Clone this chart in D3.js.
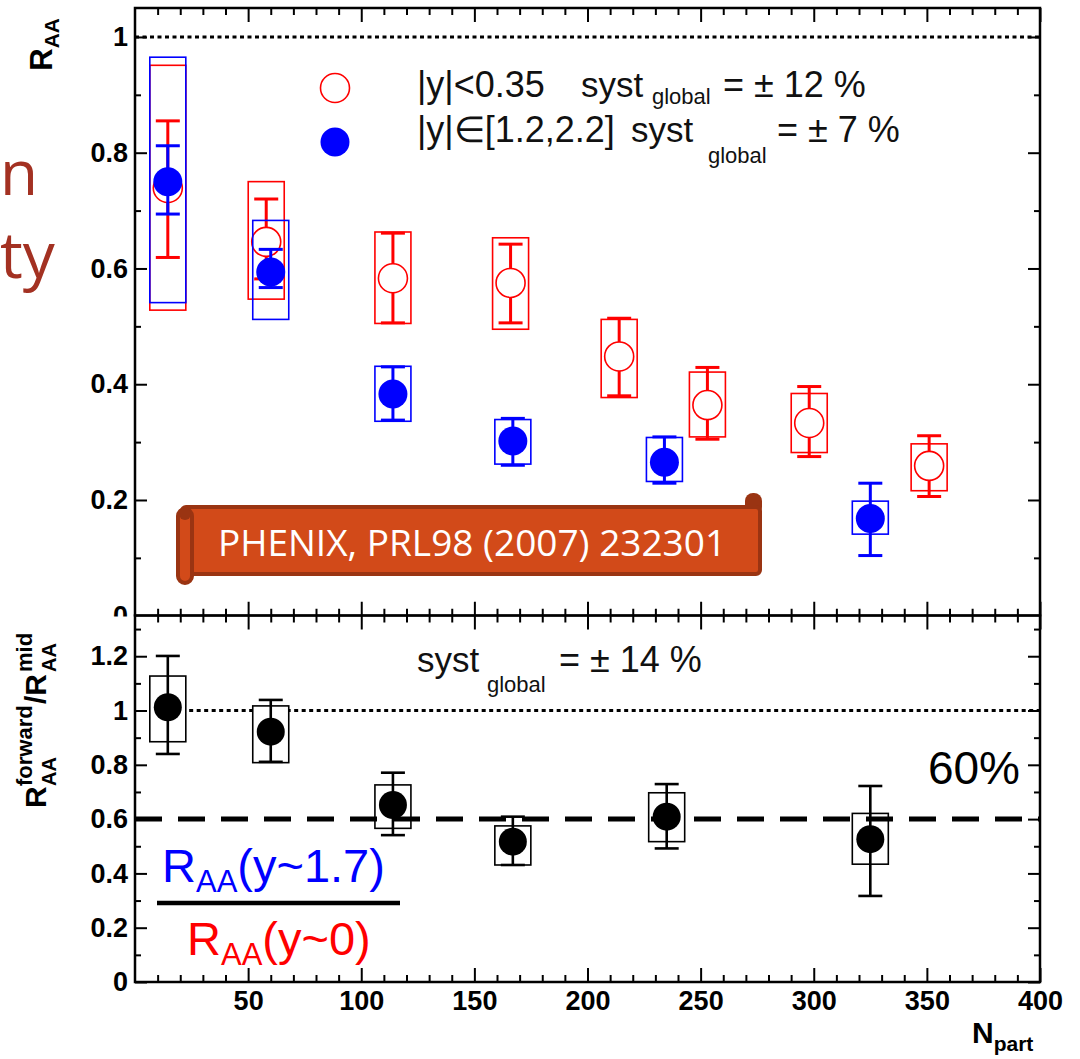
<!DOCTYPE html>
<html>
<head>
<meta charset="utf-8">
<script src="https://cdn.jsdelivr.net/npm/d3@7"></script>
<style>
  body { margin: 0; background: #fff; }
  svg { display: block; }
</style>
</head>
<body>
<svg id="chart" width="1080" height="1059"></svg>
<script>
// ---- Data: J/psi R_AA vs N_part (PHENIX Au+Au) ----
// Mid rapidity |y|<0.35
const nPartMid   = [14.5, 58, 114, 166, 214, 253, 298, 351];
const raaMid     = [0.739, 0.646, 0.583, 0.575, 0.448, 0.364, 0.333, 0.259];
const statMidHi  = [0.855, 0.720, 0.661, 0.642, 0.514, 0.429, 0.396, 0.311];
const statMidLo  = [0.619, 0.582, 0.506, 0.506, 0.380, 0.305, 0.275, 0.206];
const systMidHi  = [0.951, 0.750, 0.663, 0.653, 0.512, 0.421, 0.384, 0.297];
const systMidLo  = [0.528, 0.547, 0.505, 0.495, 0.377, 0.309, 0.282, 0.216];

// Forward rapidity |y| in [1.2, 2.2]
const nPartFwd   = [14.5, 60, 114, 167, 234, 325];
const raaFwd     = [0.750, 0.594, 0.383, 0.302, 0.265, 0.168];
const statFwdHi  = [0.812, 0.633, 0.430, 0.341, 0.309, 0.229];
const statFwdLo  = [0.694, 0.567, 0.338, 0.260, 0.229, 0.104];
const systFwdHi  = [0.965, 0.683, 0.431, 0.339, 0.308, 0.198];
const systFwdLo  = [0.541, 0.512, 0.336, 0.262, 0.232, 0.141];

// Ratio forward / mid
const nPartRatio   = [14.5, 60, 114, 167, 235, 325];
const ratio        = [1.012, 0.922, 0.652, 0.517, 0.609, 0.526];
const ratioStatHi  = [1.201, 1.039, 0.771, 0.609, 0.729, 0.722];
const ratioStatLo  = [0.840, 0.811, 0.541, 0.431, 0.492, 0.317];
const ratioSystHi  = [1.127, 1.017, 0.726, 0.575, 0.697, 0.621];
const ratioSystLo  = [0.885, 0.808, 0.566, 0.431, 0.517, 0.434];

// Axis ticks
const xMajorTicks   = [50, 100, 150, 200, 250, 300, 350, 400];
const topMajorTicks = [0, 0.2, 0.4, 0.6, 0.8, 1];
const botMajorTicks = [0, 0.2, 0.4, 0.6, 0.8, 1, 1.2];
const unityLevel = 1;
const ratioLevel = 0.6;

// ---- Layout ----
const svg = d3.select("#chart");
const W = 1080, H = 1059;
const X0 = 135, X1 = 1040;
const TOP_Y0 = 8, TOP_Y1 = 615.75;
const BOT_Y0 = 615.5, BOT_Y1 = 982;
const AXIS_FONT = "'Liberation Sans', Arial, Helvetica, sans-serif";
const SLIDE_FONT = "'Open Sans', 'Noto Sans', sans-serif";

const x    = d3.scaleLinear().domain([0, 400]).range([X0, X1]);
const yTop = d3.scaleLinear().domain([0, 1.05]).range([TOP_Y1, TOP_Y0]);
const yBot = d3.scaleLinear().domain([0, 1.35]).range([BOT_Y1, BOT_Y0]);

const RED = "#ff0000", BLUE = "#0000ff", BLACK = "#000";
const fmt = d => d3.format("~g")(d);
const xMinorTicks = d3.range(10, 400, 10).filter(v => v % 50 !== 0);

svg.append("rect").attr("width", W).attr("height", H).attr("fill", "#fff");

function styleAxis(g) {
  g.select(".domain").remove();
  g.selectAll(".tick line").attr("stroke", BLACK).attr("stroke-width", 2);
  g.selectAll("text")
    .attr("font-family", AXIS_FONT)
    .attr("font-weight", "bold")
    .attr("font-size", 27)
    .attr("fill", BLACK);
}

function drawAxes(g, y, majors, showXLabels) {
  const [yb, yt] = y.range();
  const minors = d3.range(0.1, y.domain()[1] + 1e-9, 0.1)
    .filter(v => !majors.some(m => Math.abs(m - v) < 1e-6));

  // left
  g.append("g").attr("transform", `translate(${X0},0)`)
    .call(d3.axisLeft(y).tickValues(majors).tickSize(-12).tickPadding(7).tickFormat(fmt))
    .call(styleAxis);
  g.append("g").attr("transform", `translate(${X0},0)`)
    .call(d3.axisLeft(y).tickValues(minors).tickSize(-6).tickFormat(""))
    .call(styleAxis);
  // right
  g.append("g").attr("transform", `translate(${X1},0)`)
    .call(d3.axisRight(y).tickValues(majors).tickSize(-12).tickFormat(""))
    .call(styleAxis);
  g.append("g").attr("transform", `translate(${X1},0)`)
    .call(d3.axisRight(y).tickValues(minors).tickSize(-6).tickFormat(""))
    .call(styleAxis);
  // bottom
  g.append("g").attr("transform", `translate(0,${yb})`)
    .call(d3.axisBottom(x).tickValues(xMajorTicks).tickSize(-14).tickPadding(9)
      .tickFormat(showXLabels ? fmt : ""))
    .call(styleAxis);
  g.append("g").attr("transform", `translate(0,${yb})`)
    .call(d3.axisBottom(x).tickValues(xMinorTicks).tickSize(-7).tickFormat(""))
    .call(styleAxis);
  // top
  g.append("g").attr("transform", `translate(0,${yt})`)
    .call(d3.axisTop(x).tickValues(xMajorTicks).tickSize(-14).tickFormat(""))
    .call(styleAxis);
  g.append("g").attr("transform", `translate(0,${yt})`)
    .call(d3.axisTop(x).tickValues(xMinorTicks).tickSize(-7).tickFormat(""))
    .call(styleAxis);

  g.append("rect")
    .attr("x", X0).attr("y", yt).attr("width", X1 - X0).attr("height", yb - yt)
    .attr("fill", "none").attr("stroke", BLACK).attr("stroke-width", 2.5);
}

// Draws syst boxes, stat bars and markers for one series
function drawSeries(g, y, xs, vals, sHi, sLo, eHi, eLo, opt) {
  const idx = d3.range(xs.length);
  const boxHalf = 18, capHalf = 12;
  g.append("g").selectAll("rect").data(idx).join("rect")
    .attr("x", i => x(xs[i]) - boxHalf)
    .attr("y", i => y(sHi[i]))
    .attr("width", boxHalf * 2)
    .attr("height", i => y(sLo[i]) - y(sHi[i]))
    .attr("fill", opt.boxFill)
    .attr("stroke", opt.color).attr("stroke-width", 1.6);
  const bars = g.append("g").attr("stroke", opt.color).attr("stroke-width", opt.barWidth);
  bars.selectAll("line.v").data(idx).join("line").attr("class", "v")
    .attr("x1", i => x(xs[i])).attr("x2", i => x(xs[i]))
    .attr("y1", i => y(eHi[i])).attr("y2", i => y(eLo[i]));
  bars.selectAll("line.hi").data(idx).join("line").attr("class", "hi")
    .attr("x1", i => x(xs[i]) - capHalf).attr("x2", i => x(xs[i]) + capHalf)
    .attr("y1", i => y(eHi[i])).attr("y2", i => y(eHi[i]));
  bars.selectAll("line.lo").data(idx).join("line").attr("class", "lo")
    .attr("x1", i => x(xs[i]) - capHalf).attr("x2", i => x(xs[i]) + capHalf)
    .attr("y1", i => y(eLo[i])).attr("y2", i => y(eLo[i]));
  g.append("g").selectAll("circle").data(idx).join("circle")
    .attr("cx", i => x(xs[i])).attr("cy", i => y(vals[i]))
    .attr("r", opt.r)
    .attr("fill", opt.fill)
    .attr("stroke", opt.color).attr("stroke-width", opt.open ? 1.6 : 0);
}

function label(g, txt, px, py, size, o = {}) {
  return g.append("text")
    .attr("x", px).attr("y", py)
    .attr("font-family", o.family || AXIS_FONT)
    .attr("font-size", size)
    .attr("font-weight", o.weight || "normal")
    .attr("fill", o.color || "#111")
    .attr("text-anchor", o.anchor || "start")
    .text(txt);
}

// ================= Upper panel: R_AA =================
const upper = svg.append("g");
drawAxes(upper, yTop, topMajorTicks, false);

upper.append("line")
  .attr("x1", X0).attr("x2", X1)
  .attr("y1", yTop(unityLevel)).attr("y2", yTop(unityLevel))
  .attr("stroke", BLACK).attr("stroke-width", 3).attr("stroke-dasharray", "4,3.5");

drawSeries(upper, yTop, nPartMid, raaMid, systMidHi, systMidLo, statMidHi, statMidLo,
  { color: RED, fill: "#fff", open: true, r: 14.5, barWidth: 3, boxFill: "none" });
drawSeries(upper, yTop, nPartFwd, raaFwd, systFwdHi, systFwdLo, statFwdHi, statFwdLo,
  { color: BLUE, fill: BLUE, open: false, r: 14.5, barWidth: 3, boxFill: "none" });

// Legend
upper.append("circle").attr("cx", 335).attr("cy", 88).attr("r", 14.5)
  .attr("fill", "none").attr("stroke", RED).attr("stroke-width", 1.6);
upper.append("circle").attr("cx", 335).attr("cy", 142).attr("r", 14.5).attr("fill", BLUE);
label(upper, "|y|<0.35", 417, 97, 36);
label(upper, "syst", 581, 97, 35);
label(upper, "global", 652, 104, 22);
label(upper, "= \u00b1 12 %", 723, 97, 36);
label(upper, "|y|\u2208[1.2,2.2]", 417, 142, 36);
label(upper, "syst", 631, 142, 35);
label(upper, "global", 708, 163, 22);
label(upper, "= \u00b1 7 %", 777, 142, 36);

// Y title
upper.append("text")
  .attr("transform", "translate(52,18) rotate(-90)")
  .attr("text-anchor", "end")
  .attr("font-family", AXIS_FONT).attr("font-weight", "bold").attr("font-size", 31)
  .call(t => {
    t.append("tspan").text("R");
    t.append("tspan").attr("font-size", 21).attr("dy", 7).text("AA");
  });

// Reference banner
const banner = svg.append("g");
banner.append("rect").attr("x", 745).attr("y", 493).attr("width", 17).attr("height", 22)
  .attr("rx", 8).attr("fill", "#9a3412");
banner.append("rect").attr("x", 182).attr("y", 507).attr("width", 578).attr("height", 67)
  .attr("rx", 4).attr("fill", "#d24a19").attr("stroke", "#9a3412").attr("stroke-width", 4);
banner.append("rect").attr("x", 178).attr("y", 509).attr("width", 14).attr("height", 74)
  .attr("rx", 7).attr("fill", "#d24a19").attr("stroke", "#9a3412").attr("stroke-width", 4);
banner.append("circle").attr("cx", 185).attr("cy", 514).attr("r", 6).attr("fill", "#9a3412");
label(banner, "PHENIX, PRL98 (2007) 232301", 472, 556, 37,
  { anchor: "middle", color: "#fff", family: SLIDE_FONT });

// Slide caption running in from the left edge
label(svg, "n", 0, 195, 62, { color: "#a33122", family: SLIDE_FONT });
label(svg, "ty", 0, 278, 64, { color: "#a33122", family: SLIDE_FONT });

// ================= Lower panel: forward / mid ratio =================
svg.append("rect").attr("x", 0).attr("y", BOT_Y0 + 1).attr("width", W).attr("height", H - BOT_Y0)
  .attr("fill", "#fff");
const lower = svg.append("g");
drawAxes(lower, yBot, botMajorTicks, true);

lower.append("line")
  .attr("x1", x(14)).attr("x2", X1)
  .attr("y1", yBot(unityLevel)).attr("y2", yBot(unityLevel))
  .attr("stroke", BLACK).attr("stroke-width", 3).attr("stroke-dasharray", "4,3.5");

drawSeries(lower, yBot, nPartRatio, ratio, ratioSystHi, ratioSystLo, ratioStatHi, ratioStatLo,
  { color: BLACK, fill: BLACK, open: false, r: 14, barWidth: 2.6, boxFill: "#fff" });

lower.append("line")
  .attr("x1", X0).attr("x2", X1)
  .attr("y1", yBot(ratioLevel)).attr("y2", yBot(ratioLevel))
  .attr("stroke", BLACK).attr("stroke-width", 5).attr("stroke-dasharray", "27,16");

label(lower, "syst", 417, 672, 35);
label(lower, "global", 487, 692, 22);
label(lower, "= \u00b1 14 %", 559, 672, 36);
label(lower, "60%", 1020, 784, 46, { anchor: "end", color: BLACK });

// Ratio fraction
const frac = lower.append("g");
frac.append("text").attr("x", 162).attr("y", 882)
  .attr("font-family", AXIS_FONT).attr("font-size", 47).attr("fill", BLUE)
  .call(t => {
    t.append("tspan").text("R");
    t.append("tspan").attr("font-size", 31).attr("dy", 10).text("AA");
    t.append("tspan").attr("dy", -10).text("(y~1.7)");
  });
frac.append("line").attr("x1", 157).attr("x2", 400).attr("y1", 903).attr("y2", 903)
  .attr("stroke", BLACK).attr("stroke-width", 4.5);
frac.append("text").attr("x", 187).attr("y", 955)
  .attr("font-family", AXIS_FONT).attr("font-size", 47).attr("fill", RED)
  .call(t => {
    t.append("tspan").text("R");
    t.append("tspan").attr("font-size", 31).attr("dy", 10).text("AA");
    t.append("tspan").attr("dy", -10).text("(y~0)");
  });

// Y title (ratio), laid out along the rotated baseline
const yTitle = lower.append("g")
  .attr("transform", "translate(46,808) rotate(-90)")
  .attr("font-family", AXIS_FONT).attr("font-weight", "bold").attr("fill", BLACK);
label(yTitle, "R", 0, 0, 30, { weight: "bold", color: BLACK });
label(yTitle, "forward", 22, -14, 22, { weight: "bold", color: BLACK });
label(yTitle, "AA", 22, 10, 20, { weight: "bold", color: BLACK });
label(yTitle, "/R", 104, 0, 30, { weight: "bold", color: BLACK });
label(yTitle, "mid", 136, -14, 22, { weight: "bold", color: BLACK });
label(yTitle, "AA", 136, 10, 20, { weight: "bold", color: BLACK });

// X title
svg.append("text").attr("x", 972).attr("y", 1043)
  .attr("font-family", AXIS_FONT).attr("font-weight", "bold").attr("font-size", 30)
  .call(t => {
    t.append("tspan").text("N");
    t.append("tspan").attr("font-size", 21).attr("dy", 8).text("part");
  });
</script>
</body>
</html>
